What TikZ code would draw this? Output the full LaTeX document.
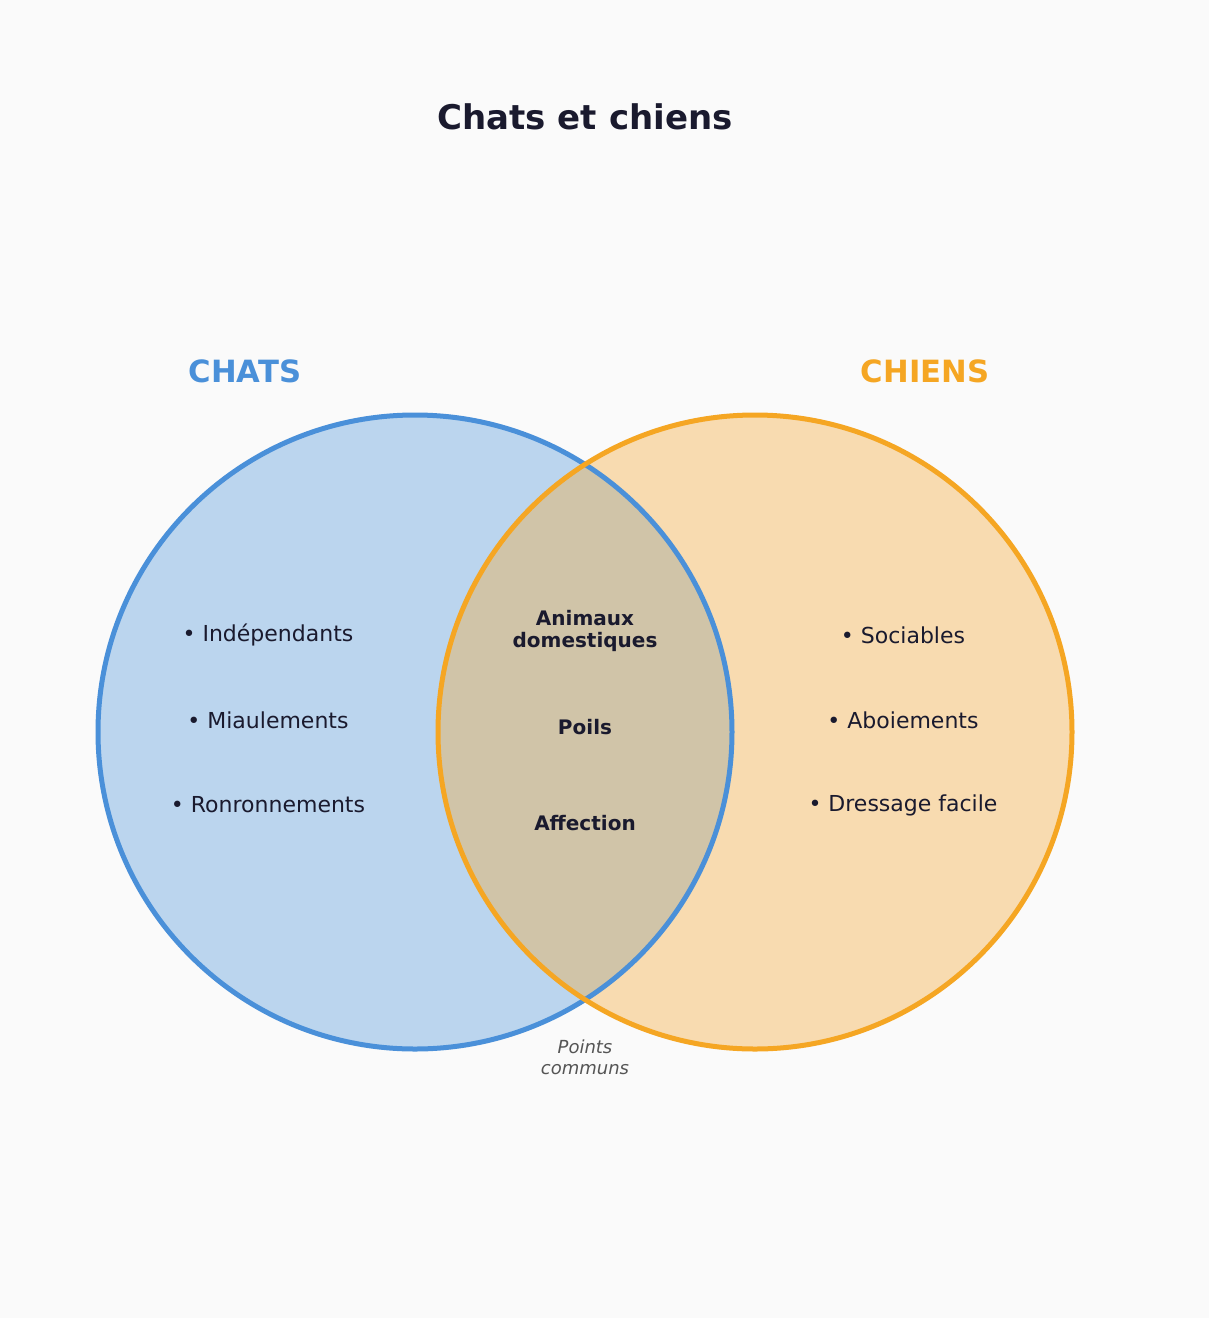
\documentclass[tikz,border=0pt]{standalone}
\usepackage{fontspec}
\setmainfont{DejaVu Sans}
\definecolor{bg}{HTML}{FAFAFA}
\definecolor{cblue}{HTML}{4A90D9}
\definecolor{fblue}{HTML}{BBD5EE}
\definecolor{corange}{HTML}{F5A623}
\definecolor{forange}{HTML}{F8DBB0}
\definecolor{fmix}{HTML}{D0C4A8}
\definecolor{ink}{HTML}{1A1A2E}
\definecolor{gr}{HTML}{555555}
\tikzset{bullet/.style={text=ink,font=\fontsize{16.5}{20}\selectfont},
 mid/.style={text=ink,font=\bfseries\fontsize{15}{17}\selectfont,align=center},
 head/.style={font=\bfseries\fontsize{23}{27}\selectfont}}
\begin{document}
\begin{tikzpicture}[x=0.75pt,y=-0.75pt]
\fill[bg] (0,0) rectangle (1209,1318);
\useasboundingbox (0,0) rectangle (1209,1318);
\fill[fblue] (415,732) circle (317);
\fill[forange] (755,732) circle (317);
\begin{scope}
\clip (415,732) circle (317);
\fill[fmix] (755,732) circle (317);
\end{scope}
\draw[cblue,line width=3.75pt] (415,732) circle (317);
\draw[corange,line width=3.75pt] (755,732) circle (317);
\node[text=ink,font=\bfseries\fontsize{25.5}{30}\selectfont] (title) at (585,117) {Chats et chiens};
\node[head,text=cblue] (chats) at (245,371) {CHATS};
\node[head,text=corange] (chiens) at (925,371) {CHIENS};
\node[bullet] (a1) at (268,635) {• Indépendants};
\node[bullet] (a2) at (268,720) {• Miaulements};
\node[bullet] (a3) at (268,805) {• Ronronnements};
\node[bullet] (b1) at (903,635) {• Sociables};
\node[bullet] (b2) at (903,720) {• Aboiements};
\node[bullet] (b3) at (903,805) {• Dressage facile};
\node[mid] (c1) at (585,631) {Animaux\\domestiques};
\node[mid] (c2) at (585,727) {Poils};
\node[mid] (c3) at (585,823) {Affection};
\node[text=gr,font=\itshape\fontsize{13.5}{15.5}\selectfont,align=center] (pc) at (585,1057) {Points\\communs};
\end{tikzpicture}
\end{document}
